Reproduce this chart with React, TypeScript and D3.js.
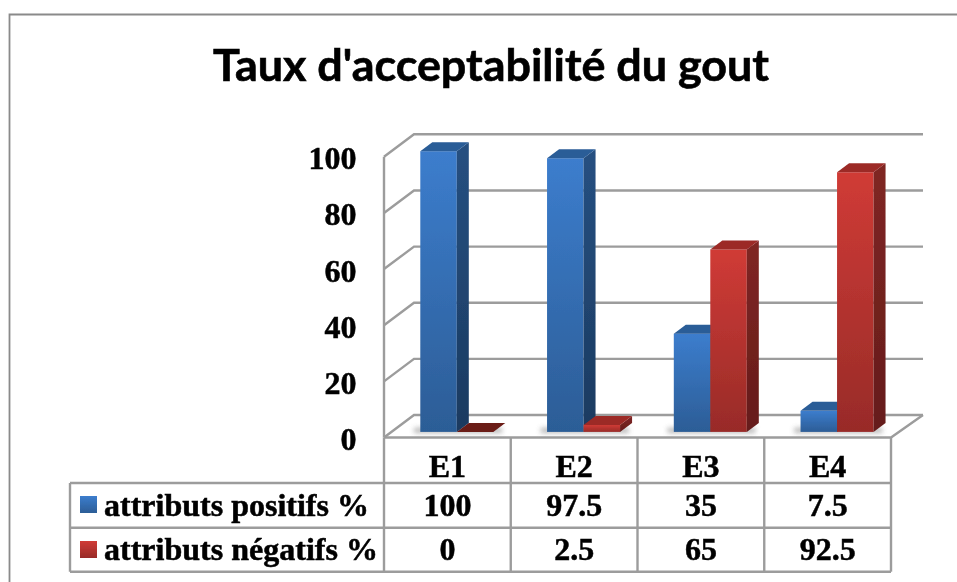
import React from "react";
import * as d3 from "d3";

const categories = ["E1", "E2", "E3", "E4"];
const positiveValues = [100, 97.5, 35, 7.5];
const negativeValues = [0, 2.5, 65, 92.5];
const positiveLabels = ["100", "97.5", "35", "7.5"];
const negativeLabels = ["0", "2.5", "65", "92.5"];
const yTicks = [0, 20, 40, 60, 80, 100];
const titleText = "Taux d'acceptabilité du gout";
const positiveName = "attributs positifs %";
const negativeName = "attributs négatifs %";

const W = 957, H = 582;
const GRID = "#9c9c9c";
const DX = 30, DY = 22.5; // wall depth
const BX = 12, BY = 9; // bar depth
const SERIF = "'Liberation Serif','Times New Roman',serif";

const x = d3.scaleBand<string>().domain(categories).range([384, 891]);
const y = d3.scaleLinear().domain([0, 100]).range([437.5, 156.8]);
const series = d3.scaleBand<string>().domain(["pos", "neg"]).range([36.3, 109.3]);
const barY = (v: number) => y(v) - 5.6;

const poly = (pts: number[][]) => pts.map((p) => p.join(",")).join(" ");

function Bar({ x0, v, kind }: { x0: number; v: number; kind: "pos" | "neg" }) {
  const w = series.bandwidth();
  const top = barY(v);
  const base = barY(0);
  const isPos = kind === "pos";
  const topFill = v === 0 ? "#6a1a18" : isPos ? "#2a5d97" : "#9c2b28";
  return (
    <g>
      {v > 0 && (
        <>
          <rect x={x0} y={top} width={w} height={base - top} fill={`url(#${kind}Front)`} />
          <polygon
            points={poly([[x0 + w, top], [x0 + w + BX, top - BY], [x0 + w + BX, base - BY], [x0 + w, base]])}
            fill={`url(#${kind}Side)`}
          />
        </>
      )}
      <polygon
        points={poly([[x0, top], [x0 + BX, top - BY], [x0 + w + BX, top - BY], [x0 + w, top]])}
        fill={topFill}
      />
    </g>
  );
}

export default function App() {
  const left = x(categories[0])!;
  const right = 891;
  const rowYs = [483, 527.7, 571.7];
  return (
    <svg width={W} height={H} viewBox={`0 0 ${W} ${H}`} style={{ position: "absolute", left: 0, top: 0, display: "block", background: "#fff" }}>
      <defs>
        <linearGradient id="posFront" x1="0" y1="0" x2="0" y2="1">
          <stop offset="0" stopColor="#3c7dcd" />
          <stop offset="1" stopColor="#2c5d96" />
        </linearGradient>
        <linearGradient id="posSide" x1="0" y1="0" x2="0" y2="1">
          <stop offset="0" stopColor="#265081" />
          <stop offset="1" stopColor="#1b3a60" />
        </linearGradient>
        <linearGradient id="negFront" x1="0" y1="0" x2="0" y2="1">
          <stop offset="0" stopColor="#d03b36" />
          <stop offset="1" stopColor="#982b28" />
        </linearGradient>
        <linearGradient id="negSide" x1="0" y1="0" x2="0" y2="1">
          <stop offset="0" stopColor="#802624" />
          <stop offset="1" stopColor="#651c1a" />
        </linearGradient>
        <filter id="soft" x="-5%" y="-5%" width="110%" height="110%">
          <feGaussianBlur stdDeviation="0.5" />
        </filter>
        <filter id="shadow" x="-30%" y="-100%" width="160%" height="300%">
          <feGaussianBlur stdDeviation="2.5" />
        </filter>
      </defs>

      <g filter="url(#soft)">
        {/* outer frame */}
        <path d={`M9.5 ${H}V14.5H${W}`} fill="none" stroke="#8a8a8a" strokeWidth={1.8} />

        <text x={491} y={81} textAnchor="middle" fontFamily="Lato, 'Open Sans', sans-serif" fontWeight={700} fontSize={43} fill="#000" stroke="#000" strokeWidth={0.6} textLength={556} lengthAdjust="spacingAndGlyphs">
          {titleText}
        </text>

        {/* walls and gridlines */}
        <g fill="none" stroke={GRID} strokeWidth={2.4}>
          {yTicks.map((t) => (
            <polyline key={t} points={poly([[left, y(t)], [left + DX, y(t) - DY], [923, y(t) - DY]])} />
          ))}
          <line x1={left} x2={left} y1={y(100)} y2={y(0)} />
          <polyline points={poly([[left, y(0)], [right, y(0)], [923, y(0) - DY]])} />
        </g>

        {/* floor shadows */}
        <g fill="#777" opacity={0.55} filter="url(#shadow)">
          {categories.map((c) => (
            <rect key={c} x={x(c)! + 30} y={barY(0) - 4} width={88} height={5} />
          ))}
        </g>

        {/* bars */}
        {categories.map((c, i) => (
          <g key={c}>
            <Bar x0={x(c)! + series("pos")!} v={positiveValues[i]} kind="pos" />
            <Bar x0={x(c)! + series("neg")!} v={negativeValues[i]} kind="neg" />
          </g>
        ))}

        {/* y tick labels */}
        <g fontFamily={SERIF} fontWeight={700} fontSize={32} textAnchor="end" fill="#000" stroke="#000" strokeWidth={0.5}>
          {yTicks.map((t) => (
            <text key={t} x={356.5} y={y(t) + 12.5}>{t}</text>
          ))}
        </g>

        {/* data table */}
        <g fill="none" stroke={GRID} strokeWidth={2.4}>
          <path d={`M70 ${rowYs[0]}H${right}M70 ${rowYs[1]}H${right}M70 ${rowYs[2]}H${right}M70 ${rowYs[0]}V${rowYs[2]}`} />
          {[...categories.map((c) => x(c)!), right].map((px) => (
            <line key={px} x1={px} x2={px} y1={y(0)} y2={rowYs[2]} />
          ))}
        </g>

        <rect x={80} y={496} width={17} height={17} fill="url(#posFront)" />
        <rect x={80} y={541} width={17} height={17} fill="url(#negFront)" />

        <g fontFamily={SERIF} fontWeight={700} fontSize={32} fill="#000" stroke="#000" strokeWidth={0.5}>
          <text x={104} y={516} textLength={265} lengthAdjust="spacingAndGlyphs">{positiveName}</text>
          <text x={104} y={560} textLength={274} lengthAdjust="spacingAndGlyphs">{negativeName}</text>
          {categories.map((c, i) => {
            const cx = x(c)! + x.bandwidth() / 2;
            return (
              <g key={c} textAnchor="middle">
                <text x={cx} y={477}>{c}</text>
                <text x={cx} y={516}>{positiveLabels[i]}</text>
                <text x={cx} y={560}>{negativeLabels[i]}</text>
              </g>
            );
          })}
        </g>
      </g>
    </svg>
  );
}
